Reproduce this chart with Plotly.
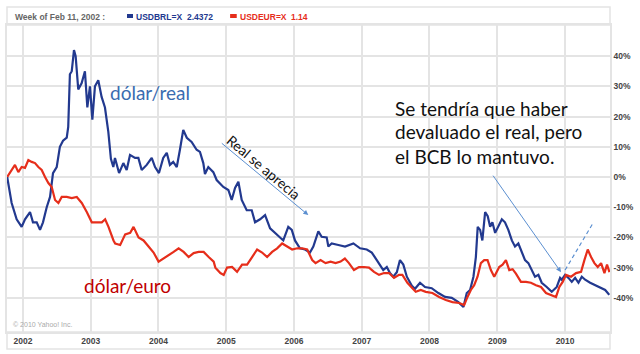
import plotly.graph_objects as go

# USD/BRL (% change from start)
brl_dates = ["2001-10-08","2001-11-01","2001-11-28","2001-12-25","2002-01-12","2002-02-08","2002-02-24","2002-03-16",
"2002-04-03","2002-04-19","2002-05-09","2002-05-27","2002-06-12","2002-07-02","2002-07-19","2002-08-05","2002-08-25",
"2002-09-02","2002-09-11","2002-09-21","2002-10-03","2002-10-12","2002-10-26","2002-11-13","2002-12-01","2002-12-14",
"2002-12-28","2003-01-10","2003-01-24","2003-02-11","2003-03-01","2003-03-19","2003-04-06","2003-04-20","2003-05-03",
"2003-05-12","2003-06-03","2003-06-26","2003-07-14","2003-08-01","2003-08-28","2003-09-15","2003-10-03","2003-10-30",
"2003-11-26","2003-12-14","2004-01-04","2004-01-27","2004-02-15","2004-03-03","2004-03-21","2004-04-09","2004-04-26",
"2004-05-14","2004-06-02","2004-06-28","2004-07-25","2004-08-12","2004-08-30","2004-09-08","2004-09-26","2004-10-23",
"2004-11-10","2004-11-28","2004-12-16","2005-01-12","2005-01-30","2005-02-17","2005-03-07","2005-03-25","2005-04-21",
"2005-05-18","2005-06-05","2005-07-02","2005-07-29","2005-08-25","2005-09-21","2005-10-17","2005-11-04","2005-12-01",
"2005-12-20","2006-01-06","2006-02-02","2006-03-01","2006-03-28","2006-04-15","2006-05-12","2006-05-30","2006-06-26",
"2006-07-05","2006-07-23","2006-08-28","2006-10-03","2006-11-17","2006-12-23","2007-01-28","2007-02-24","2007-03-23",
"2007-04-27","2007-05-16","2007-06-02","2007-06-20","2007-07-09","2007-07-26","2007-08-13","2007-09-01","2007-09-28",
"2007-10-15","2007-11-11","2007-12-08","2008-01-13","2008-02-18","2008-03-25","2008-04-30","2008-06-05","2008-07-02",
"2008-07-20","2008-08-07","2008-08-25","2008-09-07","2008-09-17","2008-09-30","2008-10-12","2008-10-27","2008-11-10",
"2008-11-23","2008-12-05","2008-12-20","2009-01-06","2009-01-25","2009-02-11","2009-03-01","2009-03-20","2009-04-06",
"2009-04-24","2009-05-12","2009-05-30","2009-06-17","2009-07-05","2009-07-23","2009-08-10","2009-08-28","2009-09-24",
"2009-10-21","2009-11-17","2009-12-05","2009-12-14","2010-01-01","2010-01-19","2010-02-06","2010-02-24","2010-03-14",
"2010-04-01","2010-04-19","2010-05-16","2010-06-12","2010-07-09","2010-08-05","2010-08-27"]
brl_pct = [0,-8.6,-14,-16.5,-14,-11.6,-15,-15,
-17.5,-15,-10,-6.6,1.3,3.3,10,12,13,
16.6,34,35,42,40,29,31,35,23,
30,19,30,32,26.5,23,15,6,3.3,
6.3,1.3,4.6,2.3,7.3,6.3,6.3,2.3,4,
6.3,3.3,1.3,6.3,8,4,5,3.3,9,
15.6,13,11.6,9,8.3,4.6,1,3.3,1.6,
-1,-2,-3.3,-4.3,-7.6,-3.6,-1.6,-7.6,-11,
-11,-15,-14,-12.6,-17,-18.5,-20,-21,-16.5,
-17.5,-21,-23.6,-24,-25,-23,-18,-19.8,-20,
-23,-22,-22.5,-23,-22,-23.6,-24,-25,-27.5,
-30.8,-29.8,-31.8,-33,-31.5,-27.5,-29,-33,-36,
-37,-35,-36.4,-36.8,-38.4,-39.7,-40,-41.4,-43,
-38.4,-37.4,-33,-26.5,-16.5,-17.5,-21,-11.6,-13,
-16.5,-15,-18.5,-16.5,-14,-15,-17.5,-21,-23,
-22,-25,-27.5,-28.5,-30.8,-33,-32.4,-35,-36.4,
-38,-36.4,-33.4,-34,-32.4,-33.4,-34.7,-33.4,-35,
-33,-34,-35,-35.8,-36.4,-37.4,-39]

# USD/EUR (% change from start)
eur_dates = ["2001-10-08","2001-11-01","2001-11-19","2001-12-07","2001-12-25","2002-01-12","2002-01-30","2002-02-17",
"2002-03-07","2002-03-25","2002-04-12","2002-04-30","2002-05-18","2002-06-05","2002-06-23","2002-07-11","2002-07-29",
"2002-08-25","2002-09-21","2002-10-18","2002-11-14","2002-12-11","2003-01-07","2003-02-03","2003-03-02","2003-03-20",
"2003-04-07","2003-05-04","2003-05-13","2003-06-09","2003-07-06","2003-08-02","2003-08-20","2003-09-16","2003-10-13",
"2003-11-09","2003-12-06","2004-01-02","2004-01-29","2004-02-25","2004-03-23","2004-04-19","2004-05-16","2004-06-12",
"2004-07-09","2004-08-05","2004-09-01","2004-09-28","2004-10-25","2004-11-03","2004-11-30","2004-12-18","2005-01-05",
"2005-02-01","2005-02-28","2005-03-27","2005-04-23","2005-05-20","2005-06-16","2005-07-13","2005-08-09","2005-09-05",
"2005-10-02","2005-10-29","2005-11-25","2005-12-22","2006-01-18","2006-02-14","2006-03-13","2006-04-09","2006-04-27",
"2006-05-24","2006-06-20","2006-07-17","2006-08-13","2006-09-09","2006-10-02","2006-10-24","2006-11-20","2006-12-17",
"2007-01-13","2007-02-09","2007-03-08","2007-04-04","2007-05-01","2007-05-28","2007-06-24","2007-07-21","2007-08-08",
"2007-09-04","2007-10-01","2007-10-19","2007-11-15","2007-12-12","2008-01-17","2008-02-22","2008-03-29","2008-05-04",
"2008-06-09","2008-07-06","2008-07-24","2008-08-11","2008-08-29","2008-09-16","2008-10-04","2008-10-22","2008-11-09",
"2008-11-27","2008-12-15","2009-01-11","2009-01-29","2009-02-16","2009-03-06","2009-03-24","2009-04-11","2009-05-08",
"2009-06-04","2009-07-01","2009-07-28","2009-08-24","2009-09-20","2009-10-17","2009-11-13","2009-12-01","2009-12-19",
"2010-01-06","2010-02-02","2010-03-01","2010-03-28","2010-04-15","2010-05-03","2010-05-21","2010-06-08","2010-06-26",
"2010-07-14","2010-08-01","2010-08-15","2010-08-28"]
eur_pct = [0,2.3,4,1.6,3.3,3,5.6,5,
4.6,3.3,2.3,0,-2,-3.3,-7.6,-8.6,-6.6,
-6.6,-7,-6.6,-8.6,-11.6,-15,-15,-15,-14,
-16.5,-21,-22,-22.5,-19,-18.5,-16.5,-20,-21,
-23,-25,-28,-27,-25.8,-24.8,-23.6,-24.8,-26.5,
-25.2,-24.8,-24.8,-26.5,-28,-30,-31.8,-32.4,-30,
-29.8,-31.4,-29,-29,-26.5,-24,-25,-26.5,-24.8,
-23.6,-22,-23,-24,-23.6,-23.6,-24,-27.5,-28.5,
-27.5,-28.5,-28,-28.5,-28,-27,-28.5,-30.8,-29.8,
-29.8,-30,-31.4,-32.4,-31.8,-31.8,-33.4,-32.4,-32.4,
-35,-36.8,-38,-37.4,-38,-38.4,-39.7,-40.7,-41.4,
-41.7,-42.4,-39.7,-37.4,-35.8,-33,-28.5,-27.5,-27.5,
-30.8,-33,-29.8,-29,-27.5,-30.8,-30.5,-32,-34.7,
-34.7,-35,-35.8,-36.4,-38.4,-39,-39.7,-36.4,-34.7,
-32.4,-33,-31.8,-31.4,-27.5,-24,-26.5,-28.5,-29.8,
-28.5,-31.8,-29,-31.5]

year_ticks = ["2002-01-01","2003-01-01","2004-01-01","2005-01-01","2006-01-01",
              "2007-01-01","2008-01-01","2009-01-01","2010-01-01"]
year_labels = ["2002","2003","2004","2005","2006","2007","2008","2009","2010"]
pct_ticks = [-40,-30,-20,-10,0,10,20,30,40]
pct_labels = ["-40%","-30%","-20%","-10%","0%","10%","20%","30%","40%"]

BLUE = "#22398f"
RED = "#e62e1b"
GRID = "#e4e4e4"
ARROW = "#5b8fd0"
TXT = "Lato"

fig = go.Figure()
fig.add_trace(go.Scatter(x=brl_dates, y=brl_pct, mode="lines",
                         line=dict(color=BLUE, width=2.2), showlegend=False))
fig.add_trace(go.Scatter(x=eur_dates, y=eur_pct, mode="lines",
                         line=dict(color=RED, width=2.2), showlegend=False))

axfont = dict(family="Liberation Sans", size=8.5, color="#444", weight="bold")
fig.update_layout(
    width=640, height=354,
    margin=dict(l=7, r=30, t=25, b=22, autoexpand=False),
    plot_bgcolor="white", paper_bgcolor="white",
    xaxis=dict(type="date", range=["2001-10-07", "2010-08-31"],
               tickmode="array", tickvals=year_ticks, ticktext=year_labels,
               showgrid=True, gridcolor=GRID, gridwidth=1.5,
               showline=True, linecolor=GRID, linewidth=1.5, mirror=True,
               ticks="", tickfont=axfont, zeroline=False),
    yaxis=dict(side="right", range=[-51.3, 50.3],
               tickmode="array", tickvals=pct_ticks, ticktext=pct_labels,
               showgrid=True, gridcolor=GRID, gridwidth=1.5,
               showline=True, linecolor=GRID, linewidth=1.5, mirror=True,
               ticks="", tickfont=axfont, zeroline=False),
)

# header box and label strip
fig.add_shape(type="rect", xref="paper", yref="paper", x0=0, x1=1, y0=1, y1=1.0586,
              line=dict(color=GRID, width=1.5))
fig.add_shape(type="rect", xref="paper", yref="paper", x0=0, x1=1, y0=-0.055, y1=0,
              line=dict(color=GRID, width=1.5))
fig.add_shape(type="rect", xref="paper", yref="paper", x0=0.199, x1=0.209, y0=1.0228, y1=1.0358,
              fillcolor=BLUE, line=dict(width=0))
fig.add_shape(type="rect", xref="paper", yref="paper", x0=0.370, x1=0.381, y0=1.0228, y1=1.0358,
              fillcolor=RED, line=dict(width=0))

hfont = dict(family="Liberation Sans", size=8.5, weight="bold")
def head(x, text, color):
    fig.add_annotation(xref="paper", yref="paper", x=x, y=1.027, xanchor="left", yanchor="middle",
                       text=text, showarrow=False, font=dict(hfont, color=color))
head(0.0095, "Week of Feb 11, 2002 :", "#666")
head(0.2105, "USDBRL=X", BLUE)
head(0.296, "2.4372", BLUE)
head(0.383, "USDEUR=X", RED)
head(0.467, "1.14", RED)

fig.add_annotation(xref="paper", yref="paper", x=0.006, y=0.023, xanchor="left", yanchor="middle",
                   text="© 2010 Yahoo! Inc.", showarrow=False,
                   font=dict(family="Liberation Sans", size=7, color="#aaa"))

# text annotations
fig.add_annotation(x="2003-11-17", y=27.8, text="dólar/real", showarrow=False,
                   font=dict(family=TXT, size=19, color="#3a6cb0"))
fig.add_annotation(x="2003-07-18", y=-35.8, text="dólar/euro", showarrow=False,
                   font=dict(family=TXT, size=19, color="#c00000"))
fig.add_annotation(x="2005-07-23", y=3.0, text="Real se aprecia", showarrow=False, textangle=40,
                   font=dict(family=TXT, size=14, color="#111"))
fig.add_annotation(x="2006-03-19", y=-12.6, ax=-88, ay=-73, text="", showarrow=True,
                   arrowhead=2, arrowsize=1, arrowwidth=1, arrowcolor=ARROW)
fig.add_annotation(x="2009-12-10", y=-31.5, ax=-69, ay=-98, text="", showarrow=True,
                   arrowhead=2, arrowsize=1, arrowwidth=1, arrowcolor=ARROW)
fig.add_shape(type="line", x0="2010-01-01", y0=-30.8, x1="2010-06-01", y1=-15.2,
              line=dict(color=ARROW, width=1.2, dash="4px,3px"))

for yv, t in [(22.8, "Se tendría que haber"), (15.0, "devaluado el real, pero"), (6.7, "el BCB lo mantuvo.")]:
    fig.add_annotation(x="2007-06-19", y=yv, xanchor="left", text=t, showarrow=False,
                       font=dict(family=TXT, size=19, color="#111"))

fig.write_html("out.html")
